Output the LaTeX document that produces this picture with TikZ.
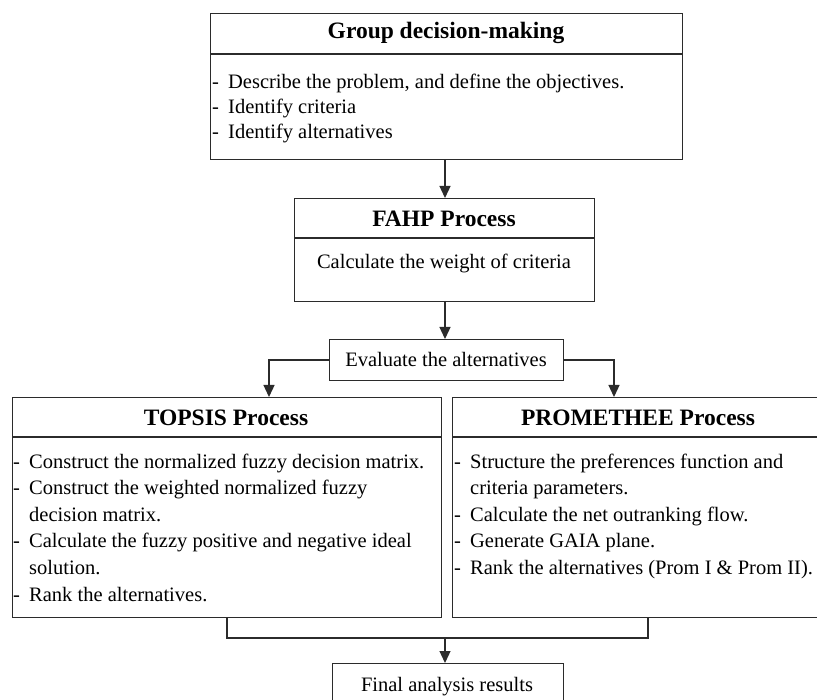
\documentclass[tikz,border=0pt]{standalone}
\usepackage{fontspec}
\setmainfont{Liberation Serif}
\usetikzlibrary{arrows.meta}
\definecolor{linec}{HTML}{2B2B2B}
\begin{document}
\begin{tikzpicture}[x=1pt,y=-1pt,
  box/.style={draw=linec, line width=1.3pt, inner sep=0pt, anchor=north west},
  conn/.style={draw=linec, line width=1.3pt},
  arr/.style={conn, -{Triangle[length=12pt,width=11pt]}},
  hd/.style={font=\bfseries\fontsize{23.5}{27}\selectfont, anchor=base, inner sep=0pt},
  tx/.style={font=\fontsize{20.5}{25}\selectfont, anchor=base west, inner sep=0pt},
  ct/.style={font=\fontsize{20.5}{25}\selectfont, anchor=base, inner sep=0pt},
]
\useasboundingbox (0,0) rectangle (817,700);
\newcommand{\dashitem}{\makebox[16pt][l]{-}}
\newcommand{\indentitem}{\hspace*{16pt}}

% Group decision-making
\node[box, minimum width=472pt, minimum height=146pt] (gdm) at (210,13) {};
\draw[conn] (210,54) -- (682,54);
\node[hd] (gdmh) at (446,39) {Group decision-making};
\node[tx] (g1) at (212,89) {\dashitem Describe the problem, and define the objectives.};
\node[tx] (g2) at (212,114) {\dashitem Identify criteria};
\node[tx] (g3) at (212,139) {\dashitem Identify alternatives};

% FAHP
\node[box, minimum width=300pt, minimum height=103pt] (fahp) at (294,198) {};
\draw[conn] (294,238) -- (594,238);
\node[hd] (fahph) at (444,227) {FAHP Process};
\node[ct] (f1) at (444,269) {Calculate the weight of criteria};

% Evaluate
\node[box, minimum width=234pt, minimum height=41pt] (eval) at (329,339) {};
\node[ct] (ev) at (446,367) {Evaluate the alternatives};

% TOPSIS
\node[box, minimum width=429pt, minimum height=220pt] (topsis) at (12,397) {};
\draw[conn] (12,437) -- (441,437);
\node[hd] (toph) at (226,426) {TOPSIS Process};
\node[tx] (t1) at (13,468) {\dashitem Construct the normalized fuzzy decision matrix.};
\node[tx] (t2) at (13,494.6) {\dashitem Construct the weighted normalized fuzzy};
\node[tx] (t3) at (13,521.2) {\indentitem decision matrix.};
\node[tx] (t4) at (13,547.8) {\dashitem Calculate the fuzzy positive and negative ideal};
\node[tx] (t5) at (13,574.4) {\indentitem solution.};
\node[tx] (t6) at (13,601) {\dashitem Rank the alternatives.};

% PROMETHEE
\node[box, minimum width=370pt, minimum height=220pt] (prom) at (452,397) {};
\draw[conn] (452,437) -- (822,437);
\node[hd] (promh) at (638,426) {PROMETHEE Process};
\node[tx] (p1) at (454,468) {\dashitem Structure the preferences function and};
\node[tx] (p2) at (454,494.6) {\indentitem criteria parameters.};
\node[tx] (p3) at (454,521.2) {\dashitem Calculate the net outranking flow.};
\node[tx] (p4) at (454,547.8) {\dashitem Generate GAIA plane.};
\node[tx] (p5) at (454,574.4) {\dashitem Rank the alternatives (Prom I \& Prom II).};

% Final
\node[box, minimum width=231pt, minimum height=50pt] (final) at (332,663) {};
\node[ct] (fin) at (447,691) {Final analysis results};

% connectors
\coordinate (tl) at (269,397);
\coordinate (pr) at (614,397);
\coordinate (tb) at (227,617);
\coordinate (pb) at (648,617);
\coordinate (jn) at (445,638);
\draw[arr] (gdm.south -| 445,0) -- (445,198);
\draw[arr] (445,301) -- (445,339);
\draw[arr] (eval.west) -| (tl);
\draw[arr] (eval.east) -| (pr);
\draw[conn] (tb) |- (jn) -| (pb);
\draw[arr] (jn) -- (jn |- final.north);
\end{tikzpicture}
\end{document}
